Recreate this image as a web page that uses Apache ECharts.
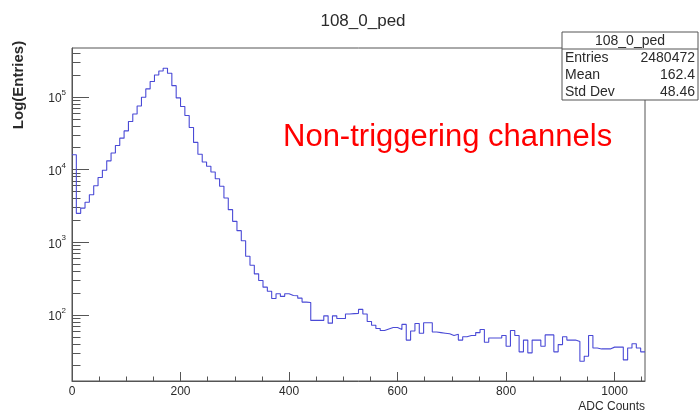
<!DOCTYPE html>
<html><head><meta charset="utf-8">
<script src="https://cdn.jsdelivr.net/npm/echarts@6/dist/echarts.min.js"></script>
<style>html,body{margin:0;padding:0;background:#fff}#c{width:699px;height:413px}</style>
</head><body><div id="c"></div>
<script>
// ---- data ----
const histTitle = '108_0_ped';
const annotation = 'Non-triggering channels';
const xTitle = 'ADC Counts';
const yTitle = 'Log(Entries)';
const binWidth = 8;
const xMin = 0, xMax = 1056;
const yMin = 12.3, yMax = 472000;
const counts = [
  16000, 2500, 2950, 3560, 4500, 6000, 7800, 9800, 13200, 16900,
  21500, 27100, 34100, 45900, 58400, 75100, 99000, 129000, 163000, 201000,
  228000, 248000, 212000, 143000, 97000, 74000, 55500, 38000, 23700, 16300,
  12700, 11100, 9250, 7500, 5890, 4070, 2810, 1940, 1445, 1050,
  643, 483, 367, 297, 241, 212, 168, 195, 180, 195,
  185, 183, 170, 150, 148, 84, 84, 84, 97, 77,
  97, 89, 89, 103, 104, 105, 119, 103, 81, 72,
  65, 61, 64, 67, 67, 63, 74, 45, 60, 76,
  56, 78, 78, 58, 57, 56, 55, 52, 54, 45,
  50, 52, 52, 57, 63, 42, 48, 48, 48, 52,
  37, 61, 52, 31, 45, 30, 45, 45, 37, 53,
  53, 31, 39, 50, 45, 45, 43, 23, 27, 52,
  35, 34, 34, 34, 36, 36, 36, 24, 35, 40,
  35, 31
];
const xMajorTicks = [0, 200, 400, 600, 800, 1000];
const xMinorTicks = [50, 100, 150, 250, 300, 350, 450, 500, 550, 650, 700, 750, 850, 900, 950, 1050];
const yMajorTicks = [100, 1000, 10000, 100000];
const yMinorTicks = [20, 30, 40, 50, 60, 70, 80, 90,
  200, 300, 400, 500, 600, 700, 800, 900,
  2000, 3000, 4000, 5000, 6000, 7000, 8000, 9000,
  20000, 30000, 40000, 50000, 60000, 70000, 80000, 90000,
  200000, 300000, 400000];
const statLabels = ['Entries', 'Mean', 'Std Dev'];
const statValues = ['2480472', '162.4', '48.46'];

// ---- chart ----
const FONT = "'Liberation Sans', Arial, sans-serif";
const AX = '#555';
const TXT = '#2a2a2a';
const stepData = counts.map((c, i) => [xMin + i * binWidth, c]);
stepData.push([xMax, counts[counts.length - 1]]);

const boxX = 562, boxY = 32, boxW = 136, rowH = 17, headH = 17;
const statGraphics = [
  { type: 'rect', shape: { x: boxX, y: boxY, width: boxW, height: headH + rowH * statLabels.length },
    style: { fill: '#fff', stroke: AX, lineWidth: 1 }, z: 100 },
  { type: 'line', shape: { x1: boxX, y1: boxY + headH, x2: boxX + boxW, y2: boxY + headH },
    style: { stroke: AX, lineWidth: 1 }, z: 101 },
  { type: 'text', x: boxX + boxW / 2, y: boxY + headH / 2 + 0.5, z: 101,
    style: { text: histTitle, font: '14px ' + FONT, fill: TXT, align: 'center', verticalAlign: 'middle' } }
];
statLabels.forEach((lab, i) => {
  const cy = boxY + headH + rowH * i + rowH / 2 + 0.5;
  statGraphics.push({ type: 'text', x: boxX + 3, y: cy, z: 101,
    style: { text: lab, font: '14px ' + FONT, fill: TXT, align: 'left', verticalAlign: 'middle' } });
  statGraphics.push({ type: 'text', x: boxX + boxW - 3, y: cy, z: 101,
    style: { text: statValues[i], font: '14px ' + FONT, fill: TXT, align: 'right', verticalAlign: 'middle' } });
});

const chart = echarts.init(document.getElementById('c'), null, { renderer: 'canvas' });
chart.setOption({
  animation: false,
  backgroundColor: '#fff',
  title: { text: histTitle, left: 358, top: 8, textAlign: 'center',
    textStyle: { fontFamily: FONT, fontSize: 17, fontWeight: 'normal', color: TXT } },
  grid: { left: 72, right: 54, top: 48, bottom: 32, show: true, borderColor: AX, borderWidth: 1,
    backgroundColor: 'transparent', containLabel: false, outerBoundsMode: 'none' },
  xAxis: [
    { type: 'value', min: xMin, max: xMax, position: 'bottom',
      axisLine: { show: true, lineStyle: { color: AX, width: 1 } },
      axisTick: { show: true, inside: true, length: 9, customValues: xMajorTicks, lineStyle: { color: AX } },
      axisLabel: { show: true, customValues: xMajorTicks, margin: 5, color: TXT, fontFamily: FONT, fontSize: 12,
        formatter: v => String(v) },
      splitLine: { show: false } },
    { type: 'value', min: xMin, max: xMax, position: 'bottom',
      axisLine: { show: false },
      axisTick: { show: true, inside: true, length: 4.5, customValues: xMinorTicks, lineStyle: { color: AX } },
      axisLabel: { show: false }, splitLine: { show: false } }
  ],
  yAxis: [
    { type: 'log', logBase: 10, min: yMin, max: yMax, position: 'left',
      axisLine: { show: true, lineStyle: { color: AX, width: 1 } },
      axisTick: { show: true, inside: true, length: 17, customValues: yMajorTicks, lineStyle: { color: AX } },
      axisLabel: { show: true, customValues: yMajorTicks, margin: 6,
        formatter: v => '{b|10}{s|' + Math.round(Math.log10(v)) + '}',
        rich: { b: { fontFamily: FONT, fontSize: 12, color: TXT, lineHeight: 16, verticalAlign: 'bottom' },
                s: { fontFamily: FONT, fontSize: 8, color: TXT, lineHeight: 16, verticalAlign: 'top' } } },
      splitLine: { show: false } },
    { type: 'log', logBase: 10, min: yMin, max: yMax, position: 'left',
      axisLine: { show: false },
      axisTick: { show: true, inside: true, length: 8.5, customValues: yMinorTicks, lineStyle: { color: AX } },
      axisLabel: { show: false }, splitLine: { show: false } }
  ],
  series: [{
    type: 'line', xAxisIndex: 0, yAxisIndex: 0, step: 'end', data: stepData,
    showSymbol: false, symbol: 'none', clip: true,
    lineStyle: { color: '#4a4ad6', width: 1.1 }, itemStyle: { color: '#4a4ad6' }
  }],
  graphic: [
    { type: 'text', x: 283, y: 137, style: { text: annotation, font: '31px ' + FONT, fill: '#ff0000', align: 'left', verticalAlign: 'middle' } },
    { type: 'text', x: 645, y: 407, style: { text: xTitle, font: '12px ' + FONT, fill: TXT, align: 'right', verticalAlign: 'middle' } },
    { type: 'text', x: 19, y: 85, rotation: Math.PI / 2,
      style: { text: yTitle, font: 'bold 15px ' + FONT, fill: TXT, align: 'center', verticalAlign: 'middle' } }
  ].concat(statGraphics)
});
</script></body></html>
